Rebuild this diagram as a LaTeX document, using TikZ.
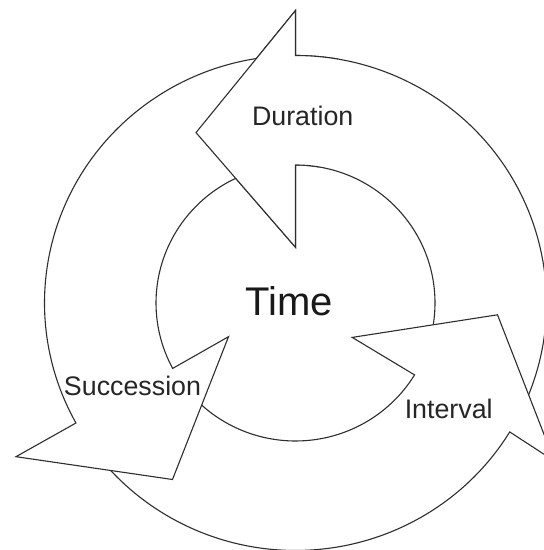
\documentclass[tikz,border=0pt]{standalone}
\usepackage{fontspec}
\setmainfont{Liberation Sans}
\usetikzlibrary{calc}
\tikzset{
  arrowshape/.style={fill=white, draw=black!82, line width=1.1pt, line join=miter},
  lbl/.style={inner sep=0pt, anchor=base, text=black!85, font=\fontsize{26.8}{32}\selectfont},
  title/.style={inner sep=0pt, anchor=base, text=black!90, font=\fontsize{40}{48}\selectfont},
  inring/.style={x radius=139.5pt, y radius=138pt},
  outring/.style={x radius=251pt, y radius=247.5pt},
}
\newcommand\durationpath{(Do) -- (Dt) -- (Di) -- ($(C)+(90:139.5pt and 138pt)$)
    arc[start angle=90, end angle=-27, inring]
    -- ($(C)+(-27:251pt and 247.5pt)$)
    arc[start angle=-27, end angle=90, outring] -- cycle}
\begin{document}
\begin{tikzpicture}[x=1pt,y=1pt]
\clip (0,0) rectangle (544,550);
\fill[white] (0,0) rectangle (544,550);
\coordinate (C) at (295.5,247);
% Duration head
\coordinate (Do) at (295.5,539.5);
\coordinate (Dt) at (196,417.4);
\coordinate (Di) at (295.5,302.7);
% Interval head
\coordinate (Ii) at (352.2,212.6);
\coordinate (It) at (497.5,235.2);
\coordinate (Io) at (554.4,89);
% Succession head
\coordinate (Si) at (228.5,213.3);
\coordinate (St) at (172.5,70.5);
\coordinate (So) at (16,93.3);
% Duration arrow
\path[arrowshape] \durationpath;
% Interval arrow
\path[arrowshape] (Io) -- (It) -- (Ii) -- ($(C)+(-31.4:139.5pt and 138pt)$)
    arc[start angle=-31.4, end angle=-145.5, inring]
    -- ($(C)+(-145.5:251pt and 247.5pt)$)
    arc[start angle=-145.5, end angle=-31.4, outring] -- cycle;
% Succession arrow
\path[arrowshape] (So) -- (St) -- (Si) -- ($(C)+(208.3:139.5pt and 138pt)$)
    arc[start angle=208.3, end angle=96, inring]
    -- ($(C)+(96:251pt and 247.5pt)$)
    arc[start angle=96, end angle=209, outring] -- cycle;
% Duration head again on top of the end of Succession
\begin{scope}
\clip (C) -- ($(C)+(80:400pt)$) -- ($(C)+(140:400pt)$) -- cycle;
\path[arrowshape] \durationpath;
\end{scope}
% labels
\node[lbl] (dur) at (302.7,424) {Duration};
\node[lbl] (int) at (448.7,131.7) {Interval};
\node[lbl] (suc) at (132.5,154) {Succession};
\node[title] (time) at (288.9,234.3) {Time};
\end{tikzpicture}
\end{document}
